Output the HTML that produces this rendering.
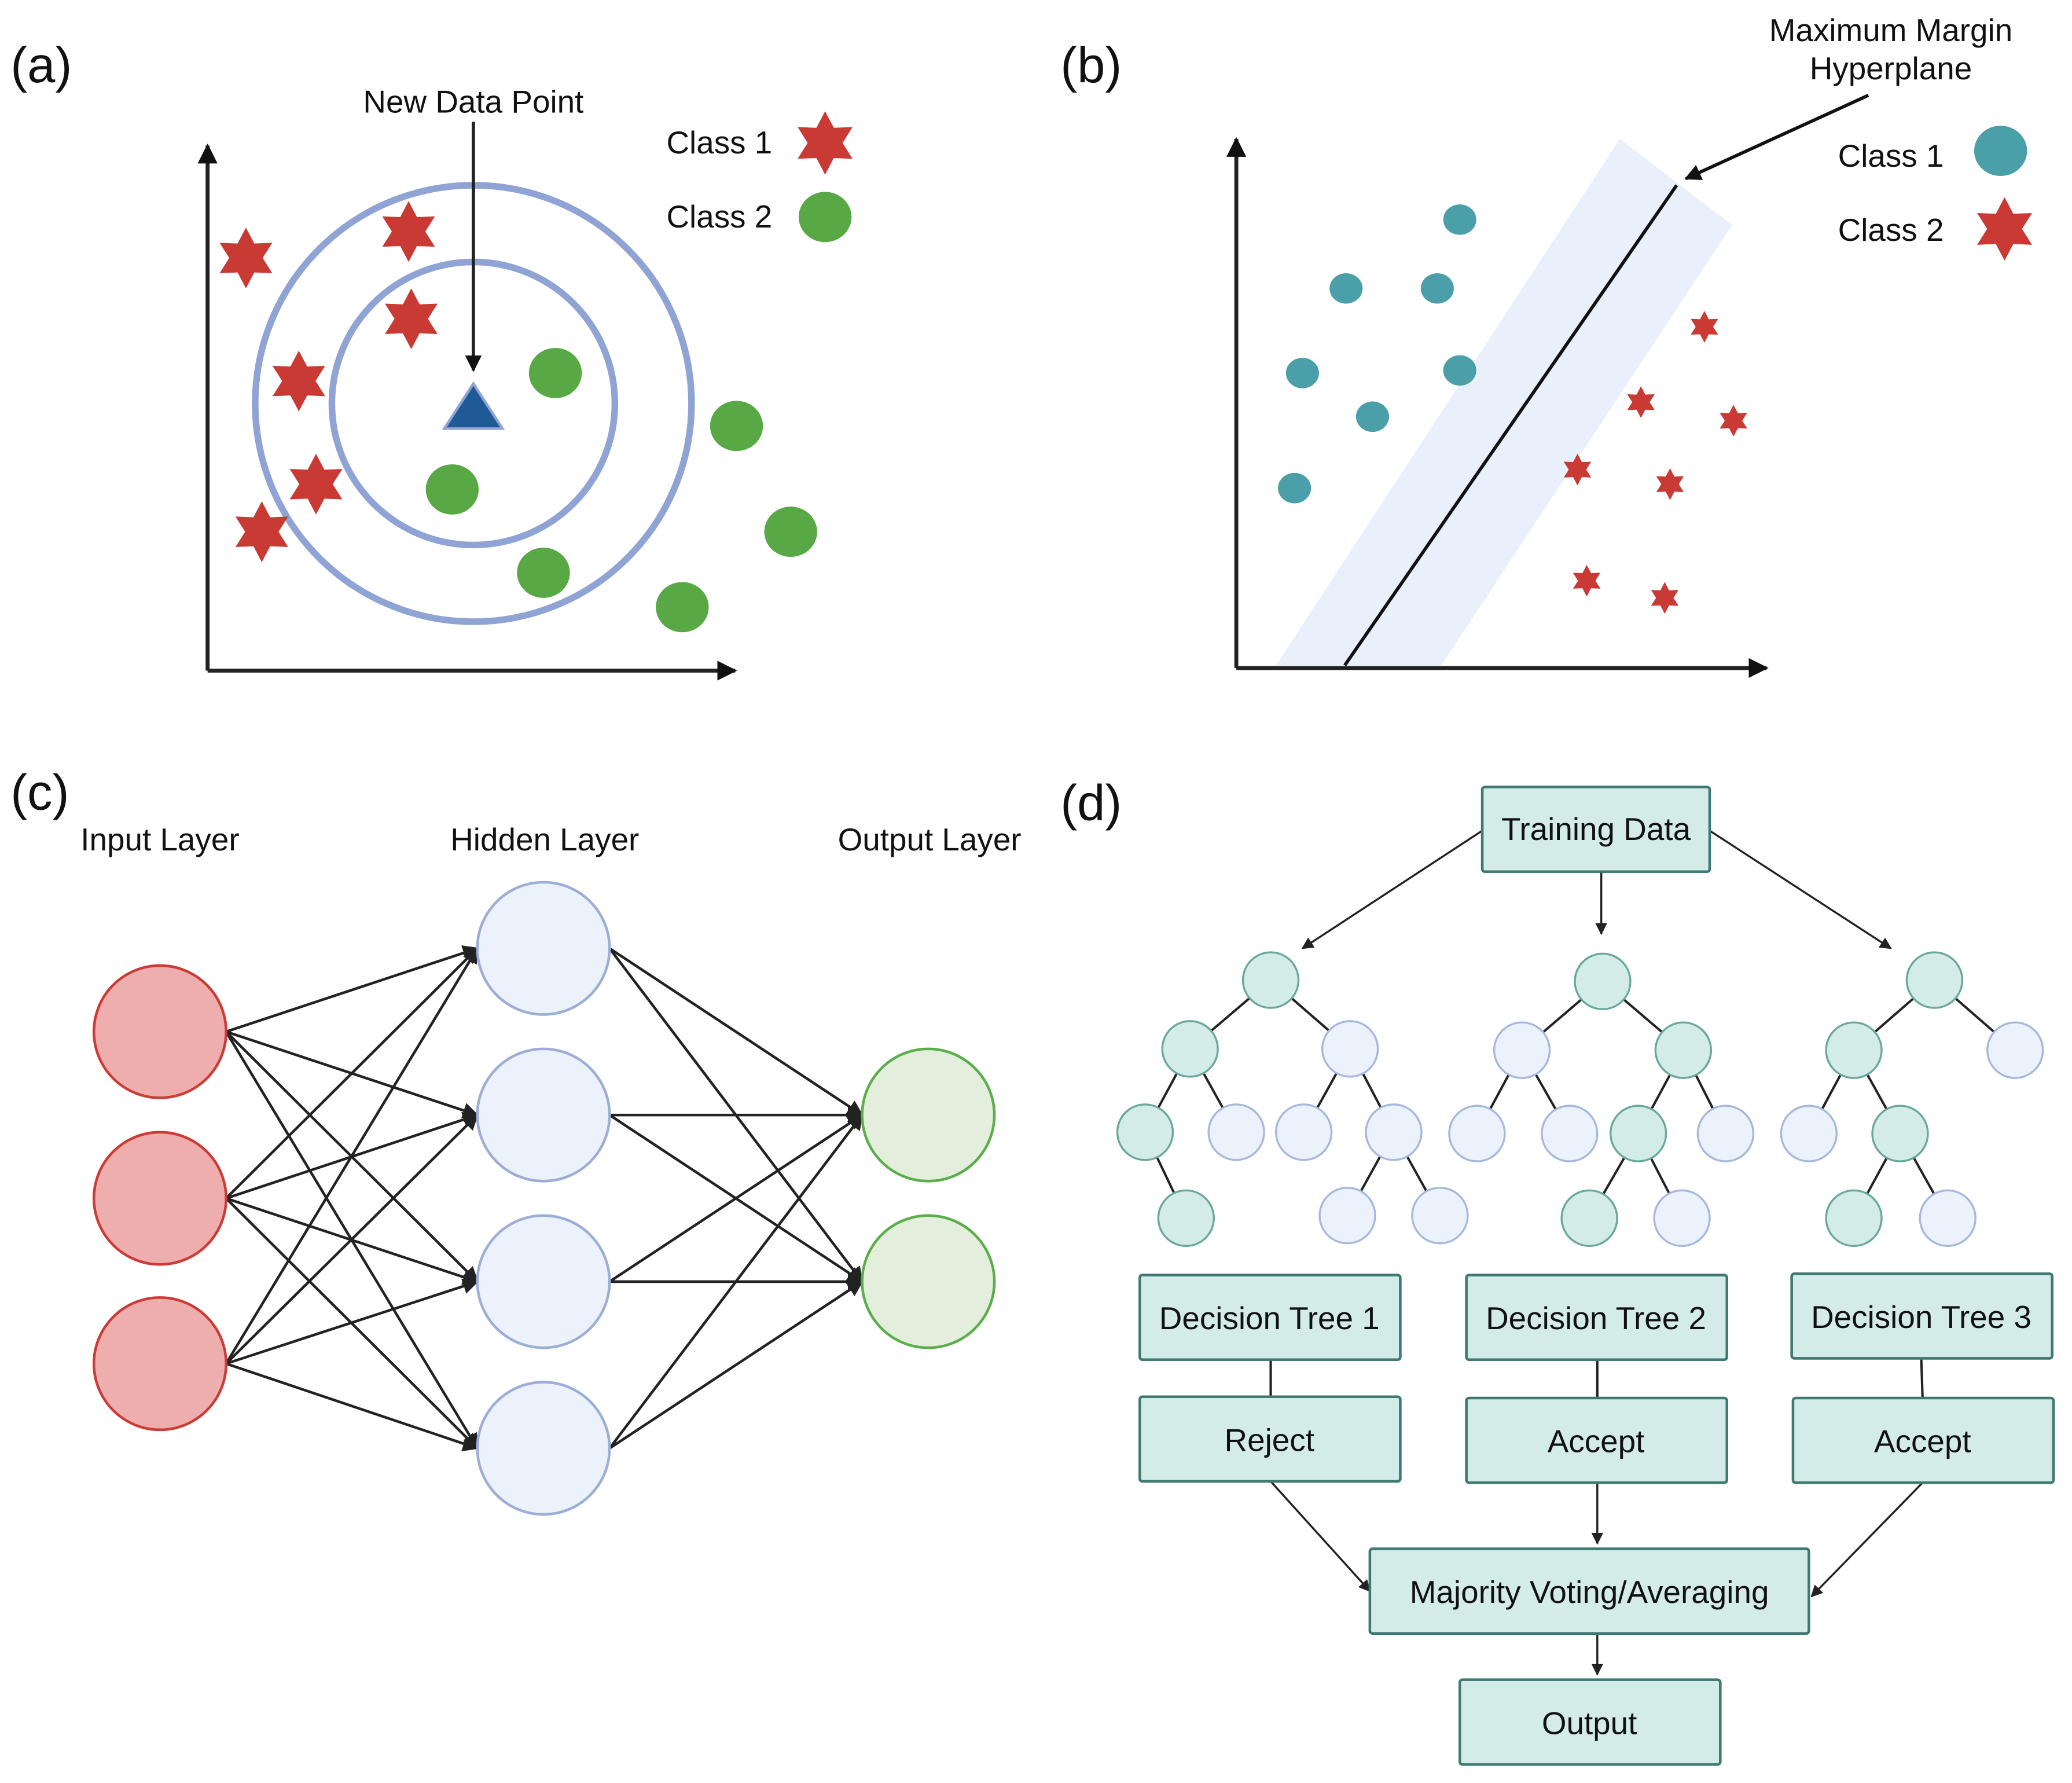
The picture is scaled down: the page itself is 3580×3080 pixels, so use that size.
<!DOCTYPE html>
<html><head><meta charset="utf-8"><style>
html,body{margin:0;padding:0;background:#fff;}
svg{display:block;}
text{font-family:"Liberation Sans",sans-serif;fill:#111;}
</style></head><body>
<svg width="3580" height="3080" viewBox="0 0 1567 1348" xmlns="http://www.w3.org/2000/svg">
<defs>
<marker id="ah" viewBox="0 0 10 10" refX="9" refY="5" markerWidth="5" markerHeight="5" orient="auto-start-reverse"><path d="M0,0 L10,5 L0,10 z" fill="#111"/></marker>
<marker id="ahs" viewBox="0 0 10 10" refX="9" refY="5" markerWidth="6" markerHeight="6" orient="auto"><path d="M0,0 L10,5 L0,10 z" fill="#222"/></marker>
<polygon id="star" points="0,-1 0.275,-0.476 0.866,-0.5 0.55,0 0.866,0.5 0.275,0.476 0,1 -0.275,0.476 -0.866,0.5 -0.55,0 -0.866,-0.5 -0.275,-0.476" fill="#c83a33"/>
</defs>
<rect width="1567" height="1348" fill="#fff"/>

<!-- (a) -->
<text x="8" y="62" font-size="38">(a)</text>
<line x1="157" y1="507" x2="157" y2="110" stroke="#222" stroke-width="3" marker-end="url(#ah)"/>
<line x1="157" y1="507" x2="556" y2="507" stroke="#222" stroke-width="3" marker-end="url(#ah)"/>
<circle cx="358" cy="305" r="165" fill="none" stroke="#8fa3d4" stroke-width="5"/>
<circle cx="358" cy="305" r="107" fill="none" stroke="#8fa3d4" stroke-width="5"/>
<polygon points="358,290 380,324 336,324" fill="#1f5a96" stroke="#8fa3d4" stroke-width="2"/>
<line x1="358" y1="92" x2="358" y2="280" stroke="#222" stroke-width="2.5" marker-end="url(#ah)"/>
<text x="358" y="85" font-size="24" text-anchor="middle">New Data Point</text>
<use href="#star" transform="translate(186,195) scale(23)"/>
<use href="#star" transform="translate(309,175) scale(23)"/>
<use href="#star" transform="translate(311,241) scale(23)"/>
<use href="#star" transform="translate(226,288) scale(23)"/>
<use href="#star" transform="translate(239,366) scale(23)"/>
<use href="#star" transform="translate(198,402) scale(23)"/>
<use href="#star" transform="translate(624,108) scale(24)"/>
<g fill="#58a846">
<ellipse cx="420" cy="282" rx="20" ry="19"/><ellipse cx="342" cy="370" rx="20" ry="19"/>
<ellipse cx="411" cy="433" rx="20" ry="19"/><ellipse cx="557" cy="322" rx="20" ry="19"/>
<ellipse cx="598" cy="402" rx="20" ry="19"/><ellipse cx="516" cy="459" rx="20" ry="19"/>
<ellipse cx="624" cy="164" rx="20" ry="19"/>
</g>
<text x="504" y="116" font-size="24">Class 1</text>
<text x="504" y="172" font-size="24">Class 2</text>

<!-- (b) -->
<text x="802" y="62" font-size="38">(b)</text>
<polygon points="965,503 1090,503 1310,170 1225,105" fill="#e9f0fb"/>
<line x1="935" y1="505" x2="935" y2="105" stroke="#222" stroke-width="3" marker-end="url(#ah)"/>
<line x1="935" y1="505" x2="1336" y2="505" stroke="#222" stroke-width="3" marker-end="url(#ah)"/>
<line x1="1017" y1="503" x2="1268" y2="140" stroke="#111" stroke-width="2.5"/>
<line x1="1413" y1="72" x2="1275" y2="135" stroke="#111" stroke-width="2.5" marker-end="url(#ah)"/>
<text x="1430" y="31" font-size="24" text-anchor="middle">Maximum Margin</text>
<text x="1430" y="60" font-size="24" text-anchor="middle">Hyperplane</text>
<g fill="#4a9fa8">
<ellipse cx="1104" cy="166" rx="12.5" ry="11.5"/><ellipse cx="1018" cy="218" rx="12.5" ry="11.5"/>
<ellipse cx="1087" cy="218" rx="12.5" ry="11.5"/><ellipse cx="985" cy="282" rx="12.5" ry="11.5"/>
<ellipse cx="1104" cy="280" rx="12.5" ry="11.5"/><ellipse cx="1038" cy="315" rx="12.5" ry="11.5"/>
<ellipse cx="979" cy="369" rx="12.5" ry="11.5"/><ellipse cx="1513" cy="114" rx="20" ry="19"/>
</g>
<use href="#star" transform="translate(1289,247) scale(12)"/>
<use href="#star" transform="translate(1241,304) scale(12)"/>
<use href="#star" transform="translate(1311,318) scale(12)"/>
<use href="#star" transform="translate(1193,355) scale(12)"/>
<use href="#star" transform="translate(1263,366) scale(12)"/>
<use href="#star" transform="translate(1200,439) scale(12)"/>
<use href="#star" transform="translate(1259,452) scale(12)"/>
<use href="#star" transform="translate(1516,173) scale(24)"/>
<text x="1390" y="126" font-size="24">Class 1</text>
<text x="1390" y="182" font-size="24">Class 2</text>

<!-- (c) -->
<text x="8" y="612" font-size="38">(c)</text>
<text x="121" y="643" font-size="24" text-anchor="middle">Input Layer</text>
<text x="412" y="643" font-size="24" text-anchor="middle">Hidden Layer</text>
<text x="703" y="643" font-size="24" text-anchor="middle">Output Layer</text>
<g stroke="#222" stroke-width="2" marker-end="url(#ahs)">
<line x1="171" y1="780" x2="361" y2="717"/><line x1="171" y1="780" x2="361" y2="843"/><line x1="171" y1="780" x2="361" y2="969"/><line x1="171" y1="780" x2="361" y2="1095"/>
<line x1="171" y1="906" x2="361" y2="717"/><line x1="171" y1="906" x2="361" y2="843"/><line x1="171" y1="906" x2="361" y2="969"/><line x1="171" y1="906" x2="361" y2="1095"/>
<line x1="171" y1="1031" x2="361" y2="717"/><line x1="171" y1="1031" x2="361" y2="843"/><line x1="171" y1="1031" x2="361" y2="969"/><line x1="171" y1="1031" x2="361" y2="1095"/>
<line x1="461" y1="717" x2="652" y2="843"/><line x1="461" y1="717" x2="652" y2="969"/>
<line x1="461" y1="843" x2="652" y2="843"/><line x1="461" y1="843" x2="652" y2="969"/>
<line x1="461" y1="969" x2="652" y2="843"/><line x1="461" y1="969" x2="652" y2="969"/>
<line x1="461" y1="1095" x2="652" y2="843"/><line x1="461" y1="1095" x2="652" y2="969"/>
</g>
<g fill="#eeaeae" stroke="#cc3b35" stroke-width="2">
<circle cx="121" cy="780" r="50"/><circle cx="121" cy="906" r="50"/><circle cx="121" cy="1031" r="50"/>
</g>
<g fill="#ebf2fb" stroke="#9daed6" stroke-width="2">
<circle cx="411" cy="717" r="50"/><circle cx="411" cy="843" r="50"/><circle cx="411" cy="969" r="50"/><circle cx="411" cy="1095" r="50"/>
</g>
<g fill="#e3efdc" stroke="#5aae4a" stroke-width="2">
<circle cx="702" cy="843" r="50"/><circle cx="702" cy="969" r="50"/>
</g>

<!-- (d) -->
<text x="802" y="620" font-size="38">(d)</text>
<g stroke="#222" stroke-width="1.5" marker-end="url(#ahs)">
<line x1="1121" y1="628" x2="985" y2="717"/>
<line x1="1211" y1="659" x2="1211" y2="706"/>
<line x1="1293" y1="628" x2="1430" y2="717"/>
<line x1="961" y1="1120" x2="1036" y2="1203"/>
<line x1="1208" y1="1121" x2="1208" y2="1167"/>
<line x1="1454" y1="1121" x2="1370" y2="1207"/>
<line x1="1208" y1="1235" x2="1208" y2="1266"/>
</g>
<g stroke="#222" stroke-width="1.8">
<line x1="961" y1="1028" x2="961" y2="1056"/><line x1="1208" y1="1028" x2="1208" y2="1057"/><line x1="1453" y1="1027" x2="1454" y2="1057"/>
</g>
<g stroke="#222" stroke-width="1.8">
<line x1="961" y1="741" x2="900" y2="793"/><line x1="961" y1="741" x2="1021" y2="793"/>
<line x1="900" y1="793" x2="866" y2="856"/><line x1="900" y1="793" x2="935" y2="856"/>
<line x1="1021" y1="793" x2="986" y2="856"/><line x1="1021" y1="793" x2="1054" y2="856"/>
<line x1="866" y1="856" x2="897" y2="921"/><line x1="1054" y1="856" x2="1019" y2="919"/><line x1="1054" y1="856" x2="1089" y2="919"/>
<line x1="1212" y1="742" x2="1151" y2="794"/><line x1="1212" y1="742" x2="1273" y2="794"/>
<line x1="1151" y1="794" x2="1117" y2="857"/><line x1="1151" y1="794" x2="1187" y2="857"/>
<line x1="1273" y1="794" x2="1239" y2="857"/><line x1="1273" y1="794" x2="1305" y2="857"/>
<line x1="1239" y1="857" x2="1202" y2="921"/><line x1="1239" y1="857" x2="1272" y2="921"/>
<line x1="1463" y1="741" x2="1402" y2="794"/><line x1="1463" y1="741" x2="1524" y2="794"/>
<line x1="1402" y1="794" x2="1368" y2="857"/><line x1="1402" y1="794" x2="1437" y2="857"/>
<line x1="1437" y1="857" x2="1402" y2="921"/><line x1="1437" y1="857" x2="1473" y2="921"/>
</g>
<g fill="#d4ece8" stroke="#6aa89a" stroke-width="1.5">
<circle cx="961" cy="741" r="21"/><circle cx="900" cy="793" r="21"/><circle cx="866" cy="856" r="21"/><circle cx="897" cy="921" r="21"/>
<circle cx="1212" cy="742" r="21"/><circle cx="1273" cy="794" r="21"/><circle cx="1239" cy="857" r="21"/><circle cx="1202" cy="921" r="21"/>
<circle cx="1463" cy="741" r="21"/><circle cx="1402" cy="794" r="21"/><circle cx="1437" cy="857" r="21"/><circle cx="1402" cy="921" r="21"/>
</g>
<g fill="#ebf2fb" stroke="#a6b8dc" stroke-width="1.5">
<circle cx="1021" cy="793" r="21"/><circle cx="935" cy="856" r="21"/><circle cx="986" cy="856" r="21"/><circle cx="1054" cy="856" r="21"/>
<circle cx="1019" cy="919" r="21"/><circle cx="1089" cy="919" r="21"/>
<circle cx="1151" cy="794" r="21"/><circle cx="1117" cy="857" r="21"/><circle cx="1187" cy="857" r="21"/><circle cx="1305" cy="857" r="21"/><circle cx="1272" cy="921" r="21"/>
<circle cx="1524" cy="794" r="21"/><circle cx="1368" cy="857" r="21"/><circle cx="1473" cy="921" r="21"/>
</g>
<g fill="#d4ece8" stroke="#3f7a72" stroke-width="2">
<rect x="1121" y="595" width="172" height="64" rx="2"/>
<rect x="862" y="964" width="197" height="64" rx="2"/>
<rect x="1109" y="964" width="197" height="64" rx="2"/>
<rect x="1355" y="963" width="197" height="64" rx="2"/>
<rect x="862" y="1056" width="197" height="64" rx="2"/>
<rect x="1109" y="1057" width="197" height="64" rx="2"/>
<rect x="1356" y="1057" width="197" height="64" rx="2"/>
<rect x="1036" y="1171" width="332" height="64" rx="2"/>
<rect x="1104" y="1270" width="197" height="64" rx="2"/>
</g>
<g font-size="24" text-anchor="middle">
<text x="1207" y="635">Training Data</text>
<text x="960" y="1005">Decision Tree 1</text>
<text x="1207" y="1005">Decision Tree 2</text>
<text x="1453" y="1004">Decision Tree 3</text>
<text x="960" y="1097">Reject</text>
<text x="1207" y="1098">Accept</text>
<text x="1454" y="1098">Accept</text>
<text x="1202" y="1212">Majority Voting/Averaging</text>
<text x="1202" y="1311">Output</text>
</g>
</svg>
</body></html>
